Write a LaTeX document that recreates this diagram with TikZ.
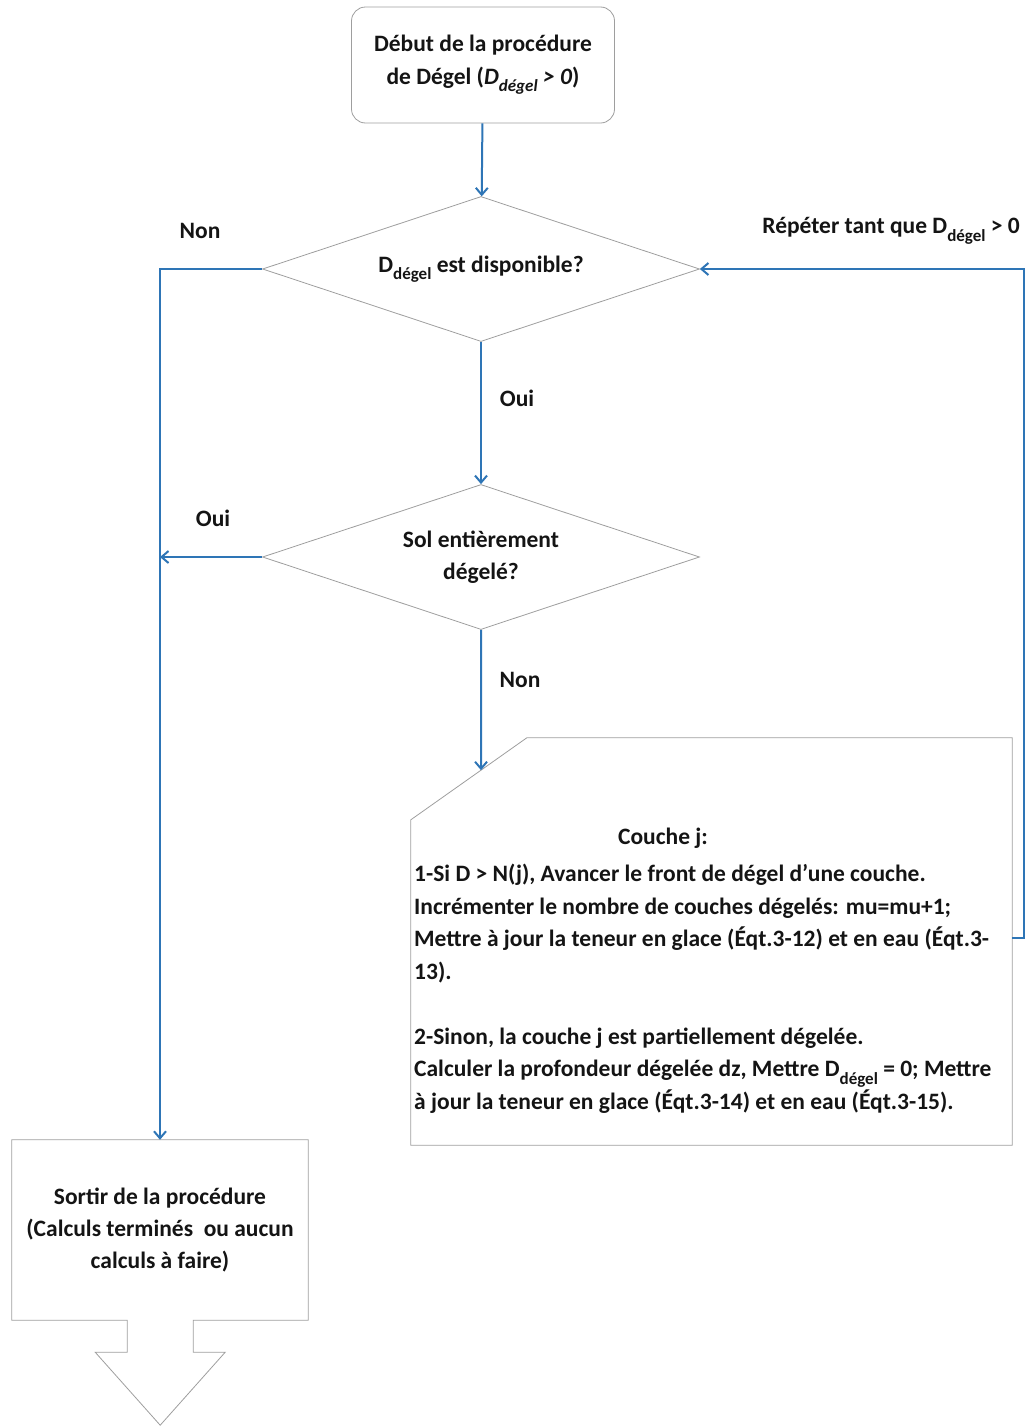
\documentclass[tikz,border=0pt]{standalone}
\usepackage{fontspec}
\setmainfont{Carlito}
\usepackage{tikz}
\usetikzlibrary{arrows.meta,positioning,calc,shapes.geometric}
\definecolor{cFlux}{HTML}{2E75B6}
\definecolor{cBord}{HTML}{9E9E9E}
\definecolor{cInk}{HTML}{141414}
\newcommand{\Ddeg}{D\raisebox{-0.32em}{\fontsize{17}{17}\selectfont dégel}}
\tikzset{
  >={Straight Barb[length=7pt,width=12pt]},
  txt/.style   ={font=\fontsize{23.5}{32.5}\selectfont\bfseries,text=cInk,inner sep=0pt},
  debut/.style ={txt,draw=cBord,line width=0.8pt,rounded corners=14pt,align=center,
                 minimum width=263pt,minimum height=116pt},
  choix/.style ={txt,diamond,aspect=3,draw=cBord,line width=0.8pt,align=center,
                 minimum width=437pt,minimum height=145pt},
  cadre/.style ={minimum width=601pt,minimum height=407pt,inner sep=0pt},
  bord/.style  ={draw=cBord,line width=0.8pt},
  flux/.style  ={->,cFlux,line width=2pt},
  lbl/.style   ={txt},
}
\begin{document}
\begin{tikzpicture}[x=1pt,y=-1pt]
\useasboundingbox (0,0) rectangle (1026,1427);
% noeuds
\node[debut] (debut) at (483,65) {Début de la procédure\\de Dégel (\textit{\Ddeg{} > 0})};
\node[choix] (d1) at (481,269) {\Ddeg{} est disponible?};
\node[choix] (d2) at (481,557) {Sol entièrement\\dégelé?};
\node[cadre] (couche) at (711.5,941.5) {};
\node[txt] (titre) at (663,838) {Couche j:};
\node[txt,align=left,anchor=north west] (corps) at (414,864)
  {1-Si D > N(j), Avancer le front de dégel d’une couche.\\
   Incrémenter le nombre de couches dégelés: mu=mu+1;\\
   Mettre à jour la teneur en glace (Éqt.3-12) et en eau (Éqt.3-\\
   13).\\[32.5pt]
   2-Sinon, la couche j est partiellement dégelée.\\
   Calculer la profondeur dégelée dz, Mettre \Ddeg{} = 0; Mettre\\
   à jour la teneur en glace (Éqt.3-14) et en eau (Éqt.3-15).};
\node[txt,align=center,minimum width=296pt,minimum height=180pt] (sortie) at (160,1230)
  {Sortir de la procédure\\(Calculs terminés~ ou aucun\\calculs à faire)};
% contours
\coordinate (cA) at ($(couche.north west)+(116,0)$);
\coordinate (cB) at ($(couche.north west)+(0,82)$);
\draw[bord] (cA) -- (couche.north east) -- (couche.south east) -- (couche.south west) -- (cB) -- cycle;
\draw[bord] (sortie.north west) -- (sortie.north east) -- (sortie.south east)
  -- ++(-115,0) -- ++(0,32) -- ++(32,0) -- ++(-65,73) -- ++(-65,-73) -- ++(32,0)
  -- ++(0,-32) -- (sortie.south west) -- cycle;
% liens
\coordinate (bord) at (1024,938);
\draw[flux] (debut) -- (d1);
\draw[flux] (d1) -- (d2);
\draw[flux] (d2.south) -- (intersection of d2.south--{d2.south|-cB} and cA--cB);
\draw[flux] (d1.west) -| (sortie.north);
\draw[flux] (d2.west) -- (d2.west -| sortie.north);
\draw[flux] (couche.east |- bord) -- (bord) |- (d1.east);
% etiquettes
\node[lbl] (nonA) at (200,231) {Non};
\node[lbl] (ouiA) at (517,398) {Oui};
\node[lbl] (ouiB) at (213,518) {Oui};
\node[lbl] (nonB) at (520,680) {Non};
\node[lbl,anchor=east] (repet) at (1020,231) {Répéter tant que \Ddeg{} > 0};
\end{tikzpicture}
\end{document}
